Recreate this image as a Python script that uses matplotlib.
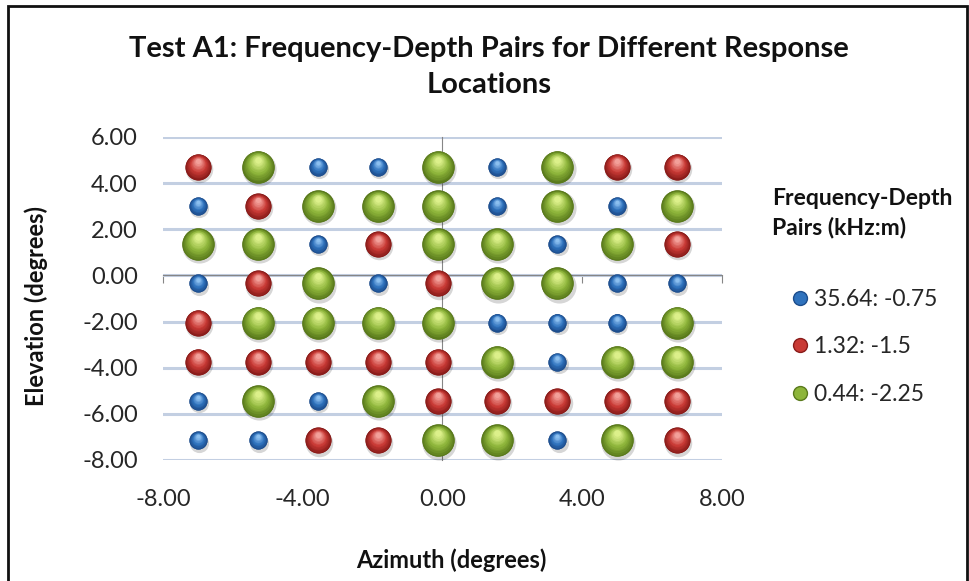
import numpy as np
import matplotlib.pyplot as plt
from matplotlib.lines import Line2D
from matplotlib.patches import Rectangle
from matplotlib.transforms import offset_copy
from matplotlib.colors import to_rgb

plt.rcParams['font.family'] = ['Lato', 'DejaVu Sans']

# response locations (degrees)
azimuth = [-7.0, -5.29, -3.57, -1.86, -0.14, 1.57, 3.29, 5.0, 6.71]
elevation = [4.7, 3.0, 1.35, -0.35, -2.05, -3.75, -5.45, -7.15]

# which frequency-depth pair sits at each location (rows top to bottom)
# B = 35.64: -0.75, R = 1.32: -1.5, G = 0.44: -2.25
pattern = [
    "RGBBGBGRR",
    "BRGGGBGBG",
    "GGBRGGBGR",
    "BRGBRGGBB",
    "RGGGGBBBG",
    "RRRRRGBGG",
    "BGBGRRRRR",
    "BBRRGGBGR",
]

series_keys = ["B", "R", "G"]
series_labels = ["35.64: -0.75", "1.32: -1.5", "0.44: -2.25"]
series_sizes = [170, 350, 540]
series_colors = {
    "B": ("#1d4d8c", "#2f72bd", "#8cc0f0"),
    "R": ("#8a1c1a", "#c93a35", "#f3a09a"),
    "G": ("#5a7a1c", "#8db53a", "#dcf08a"),
}

xticks = [-8, -4, 0, 4, 8]
yticks = [6, 4, 2, 0, -2, -4, -6, -8]

fig = plt.figure(figsize=(9.69, 5.81), dpi=100)
ax = fig.add_axes([0.1682, 0.2083, 0.5769, 0.5559])
ax.set_xlim(-8, 8)
ax.set_ylim(-8, 6)


def mix(c1, c2, t):
    a, b = np.array(to_rgb(c1)), np.array(to_rgb(c2))
    return tuple(a + (b - a) * t)


def spheres(ax, xs, ys, size, cols, z=3):
    dark, mid, light = cols
    r = np.sqrt(size) / 2.0  # radius in points
    # soft shadow
    sh = offset_copy(ax.transData, fig=fig, x=0.8, y=-1.6, units='points')
    ax.scatter(xs, ys, s=size * 1.12, color='#000000', alpha=0.16, lw=0,
               transform=sh, zorder=z)
    ax.scatter(xs, ys, s=size, color=dark, lw=0, zorder=z + 0.1)
    n = 12
    for k in range(n):
        t = k / (n - 1)
        frac = 1.0 - 0.8 * t
        c = mix(dark, mid, min(1, t * 2.2)) if t < 0.45 else mix(mid, light, (t - 0.45) / 0.55)
        tr = offset_copy(ax.transData, fig=fig, x=0, y=r * (1 - frac) * 0.55, units='points')
        ax.scatter(xs, ys, s=size * frac ** 2, color=c, lw=0, transform=tr,
                   zorder=z + 0.2 + k * 0.01)


for key, lab, sz in zip(series_keys, series_labels, series_sizes):
    xs, ys = [], []
    for yi, row in zip(elevation, pattern):
        for xi, ch in zip(azimuth, row):
            if ch == key:
                xs.append(xi)
                ys.append(yi)
    spheres(ax, xs, ys, sz, series_colors[key])

# grid and axes crossing at zero
ax.set_yticks(yticks)
ax.set_xticks(xticks)
ax.yaxis.grid(True, color='#c3cfe2', lw=2.2, zorder=0)
ax.get_ygridlines()[yticks.index(0)].set_visible(False)
ax.set_axisbelow(True)
for s in ['top', 'right']:
    ax.spines[s].set_visible(False)
ax.spines['bottom'].set_position(('data', 0))
ax.spines['left'].set_position(('data', 0))
ax.spines['bottom'].set_color('#868686')
ax.spines['left'].set_color('#868686')
ax.spines['bottom'].set_zorder(1)
ax.spines['left'].set_zorder(1)
ax.tick_params(axis='x', direction='out', length=6, color='#868686', labelbottom=False)
ax.tick_params(axis='y', length=0, labelleft=False)

secx = ax.secondary_xaxis(0)
secx.set_xticks(xticks)
secx.set_xticklabels([f"{v:.2f}" for v in xticks])
secx.tick_params(length=0, pad=21, labelsize=17, labelcolor='#262626')
secx.spines['bottom'].set_visible(False)

secy = ax.secondary_yaxis(0)
secy.set_yticks(yticks)
secy.set_yticklabels([f"{v:.2f}" for v in yticks])
secy.tick_params(length=0, pad=18, labelsize=17, labelcolor='#262626')
secy.spines['left'].set_visible(False)

fig.text(0.037, 0.473, "Elevation (degrees)", rotation=90, ha='center', va='center',
         fontsize=17, fontweight='bold', color='#111111')
fig.text(0.466, 0.036, "Azimuth (degrees)", ha='center', va='center',
         fontsize=17, fontweight='bold', color='#111111')
fig.text(0.505, 0.885, "Test A1: Frequency-Depth Pairs for Different Response\nLocations",
         ha='center', va='center', fontsize=21, fontweight='bold', linespacing=1.5,
         color='#111111')

fig.text(0.797, 0.633, "Frequency-Depth\nPairs (kHz:m)", ha='left', va='center',
         fontsize=16.5, fontweight='bold', linespacing=1.45, color='#111111')

handles = [Line2D([], [], marker='o', ls='', markersize=10,
                  markerfacecolor=series_colors[k][1], markeredgecolor=series_colors[k][0])
           for k in series_keys]
leg = fig.legend(handles, series_labels, loc='upper left',
                 bbox_to_anchor=(0.815, 0.503), frameon=False, fontsize=16.5,
                 handletextpad=0.15, handlelength=0.9, labelspacing=1.16,
                 borderpad=0, borderaxespad=0)
for t in leg.get_texts():
    t.set_color('#262626')

fig.patches.append(Rectangle((0.0083, -0.05), 0.9897, 1.0397, transform=fig.transFigure,
                             fill=False, ec='#111111', lw=2))

fig.savefig('out.png', dpi=100)
